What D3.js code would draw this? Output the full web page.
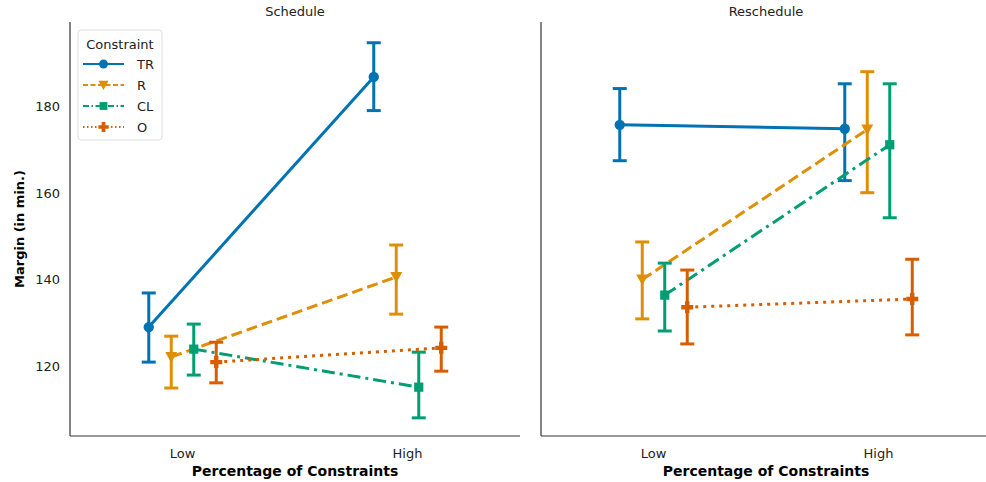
<!doctype html>
<html>
<head>
<meta charset="utf-8">
<title>Margin by Percentage of Constraints</title>
<style>
    body { margin: 0; padding: 0; background: #fff; }
    svg text { font-family: "DejaVu Sans", sans-serif; }
</style>
</head>
<body>
<svg id="chart" width="986" height="482"></svg>
<script src="https://d3js.org/d3.v7.min.js"></script>
<script>
// data
var panels = ["Schedule", "Reschedule"];
var levels = ["Low", "High"];
var constraints = ["TR", "R", "CL", "O"];
var yTicks = [120, 140, 160, 180];

// mean, lower, upper for [Low, High]
var scheduleMean = { TR: [129.0, 186.9], R: [122.1, 140.6], CL: [123.9, 115.1], O: [120.9, 124.2] };
var scheduleLow  = { TR: [120.9, 179.1], R: [114.9, 132.0], CL: [117.9, 108.0], O: [116.1, 118.8] };
var scheduleHigh = { TR: [136.9, 194.8], R: [126.9, 148.0], CL: [129.7, 123.2], O: [125.5, 129.0] };

var rescheduleMean = { TR: [175.8, 174.9], R: [140.0, 174.7], CL: [136.4, 171.2], O: [133.6, 135.5] };
var rescheduleLow  = { TR: [167.5, 162.9], R: [130.9, 160.1], CL: [128.1, 154.3], O: [125.1, 127.2] };
var rescheduleHigh = { TR: [184.2, 185.3], R: [148.7, 188.1], CL: [143.8, 185.3], O: [142.2, 144.7] };

var colors = { TR: "#0173b2", R: "#de8f05", CL: "#029e73", O: "#d55e00" };
var dashes = { TR: null, R: "11,5", CL: "13,5,3,5", O: "3,5" };
var legendDashes = { TR: null, R: "5,2.5", CL: "6,2.5,1.5,2.5", O: "1.5,2.5" };
var dodge = { TR: -0.15, R: -0.05, CL: 0.05, O: 0.15 };

var svg = d3.select("#chart");

var yTop = 22, yBottom = 436;
var y = d3.scaleLinear().domain([103.8, 199.6]).range([yBottom, yTop]);

var panelRange = { Schedule: [70, 520], Reschedule: [541, 991] };
var panelMean = { Schedule: scheduleMean, Reschedule: rescheduleMean };
var panelLo = { Schedule: scheduleLow, Reschedule: rescheduleLow };
var panelHi = { Schedule: scheduleHigh, Reschedule: rescheduleHigh };

function markerPath(c) {
    if (c === "TR") return d3.symbol().type(d3.symbolCircle).size(85)();
    if (c === "R") return "M-6,-5L6,-5L0,6Z";
    if (c === "CL") return d3.symbol().type(d3.symbolSquare).size(85)();
    // filled plus
    return "M-2.2,-6L2.2,-6L2.2,-2.2L6,-2.2L6,2.2L2.2,2.2L2.2,6L-2.2,6L-2.2,2.2L-6,2.2L-6,-2.2L-2.2,-2.2Z";
}

panels.forEach(function(p, pi) {
    var r = panelRange[p];
    var x = d3.scaleLinear().domain([-0.5, 1.5]).range(r);
    var g = svg.append("g");

    // spines
    g.append("line").attr("x1", r[0]).attr("x2", r[0]).attr("y1", yTop).attr("y2", yBottom)
        .attr("stroke", "#333").attr("stroke-width", 1.2);
    g.append("line").attr("x1", r[0]).attr("x2", r[1]).attr("y1", yBottom).attr("y2", yBottom)
        .attr("stroke", "#333").attr("stroke-width", 1.2);

    // x tick labels
    levels.forEach(function(l, i) {
        g.append("text").attr("x", x(i)).attr("y", yBottom + 22)
            .attr("text-anchor", "middle").style("font-size", "13px").attr("fill", "#222")
            .text(l);
    });

    if (pi === 0) {
        yTicks.forEach(function(t) {
            g.append("text").attr("x", r[0] - 10).attr("y", y(t)).attr("dy", "0.35em")
                .attr("text-anchor", "end").style("font-size", "13px").attr("fill", "#222")
                .text(t);
        });
        g.append("text")
            .attr("transform", "translate(24," + ((yTop + yBottom) / 2) + ") rotate(-90)")
            .attr("text-anchor", "middle").style("font-size", "13px").style("font-weight", "bold")
            .text("Margin (in min.)");
    }

    g.append("text").attr("x", (r[0] + r[1]) / 2).attr("y", 476)
        .attr("text-anchor", "middle").style("font-size", "14px").style("font-weight", "bold")
        .text("Percentage of Constraints");

    g.append("text").attr("x", (r[0] + r[1]) / 2).attr("y", 16)
        .attr("text-anchor", "middle").style("font-size", "13px").attr("fill", "#222")
        .text(p);

    var line = d3.line().x(function(d) { return x(d.i + dodge[d.c]); }).y(function(d) { return y(d.v); });

    constraints.forEach(function(c) {
        var pts = levels.map(function(l, i) {
            return { c: c, i: i, v: panelMean[p][c][i], lo: panelLo[p][c][i], hi: panelHi[p][c][i] };
        });
        var col = colors[c];

        g.append("path").datum(pts).attr("d", line)
            .attr("fill", "none").attr("stroke", col).attr("stroke-width", 3)
            .attr("stroke-dasharray", dashes[c]);

        var eb = g.selectAll(null).data(pts).enter().append("g");
        eb.append("line")
            .attr("x1", function(d) { return x(d.i + dodge[c]); })
            .attr("x2", function(d) { return x(d.i + dodge[c]); })
            .attr("y1", function(d) { return y(d.lo); })
            .attr("y2", function(d) { return y(d.hi); })
            .attr("stroke", col).attr("stroke-width", 3);
        [function(d) { return y(d.lo); }, function(d) { return y(d.hi); }].forEach(function(fy) {
            eb.append("line")
                .attr("x1", function(d) { return x(d.i + dodge[c]) - 7; })
                .attr("x2", function(d) { return x(d.i + dodge[c]) + 7; })
                .attr("y1", fy).attr("y2", fy)
                .attr("stroke", col).attr("stroke-width", 3);
        });
        eb.append("path").attr("d", markerPath(c))
            .attr("transform", function(d) { return "translate(" + x(d.i + dodge[c]) + "," + y(d.v) + ")"; })
            .attr("fill", col);
    });
});

// legend
var lg = svg.append("g").attr("transform", "translate(78,30)");
lg.append("rect").attr("width", 84).attr("height", 110).attr("rx", 3)
    .attr("fill", "#fff").attr("fill-opacity", 0.85).attr("stroke", "#ddd");
lg.append("text").attr("x", 42).attr("y", 19).attr("text-anchor", "middle")
    .style("font-size", "13px").attr("fill", "#222").text("Constraint");
constraints.forEach(function(c, i) {
    var yy = 34 + i * 21;
    lg.append("line").attr("x1", 5).attr("x2", 46).attr("y1", yy).attr("y2", yy)
        .attr("stroke", colors[c]).attr("stroke-width", 1.8).attr("stroke-dasharray", legendDashes[c]);
    lg.append("path").attr("d", markerPath(c)).attr("transform", "translate(25.5," + yy + ") scale(0.85)")
        .attr("fill", colors[c]);
    lg.append("text").attr("x", 59).attr("y", yy).attr("dy", "0.35em")
        .style("font-size", "13px").attr("fill", "#222").text(c);
});
</script>
</body>
</html>
